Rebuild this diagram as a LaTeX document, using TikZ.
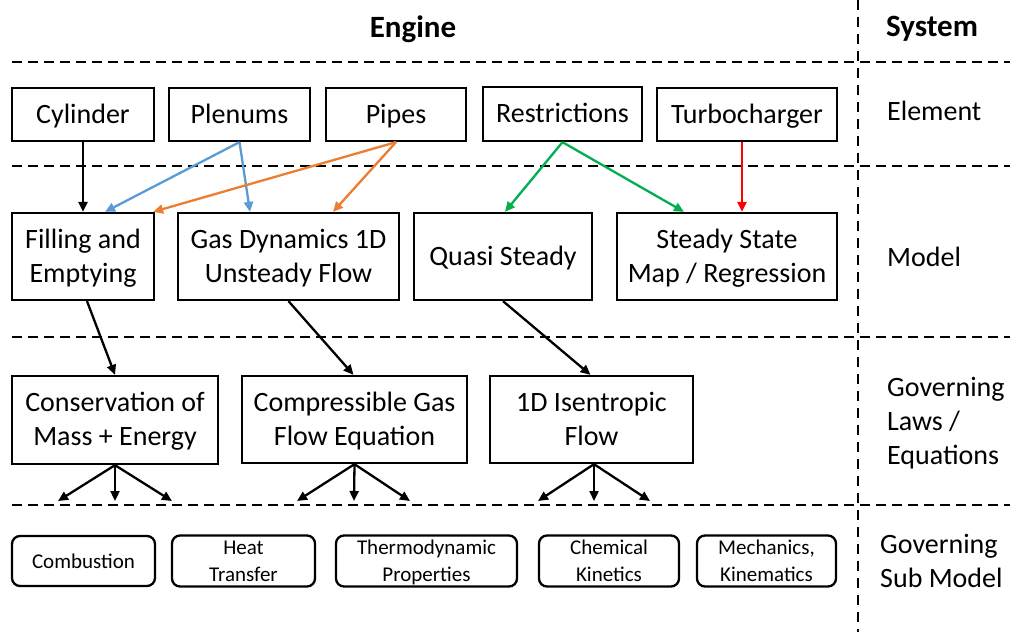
\documentclass[tikz,border=0pt]{standalone}
\usepackage{fontspec}
\setmainfont{Carlito}
\usetikzlibrary{arrows.meta}
\definecolor{cblue}{HTML}{5B9BD5}
\definecolor{corange}{HTML}{ED7D31}
\definecolor{cgreen}{HTML}{00B050}
\definecolor{cred}{HTML}{FF0000}
\begin{document}
\begin{tikzpicture}[x=1pt,y=-1pt,
  frame/.style={draw, line width=2.3pt, align=center, inner sep=0pt},
  box/.style={frame, font=\fontsize{28}{34}\selectfont,
    text height=24pt, text depth=7pt},
  twobox/.style={frame, font=\fontsize{28}{34}\selectfont,
    text height=58pt, text depth=7pt},
  subbox/.style={frame, rounded corners=8pt, minimum height=50pt,
    font=\fontsize{21}{27}\selectfont, text height=19pt, text depth=5pt},
  twosub/.style={frame, rounded corners=8pt, minimum height=50pt,
    font=\fontsize{21}{27}\selectfont, text height=46pt, text depth=5pt},
  lbl/.style={anchor=west, align=left, inner sep=0pt,
    font=\fontsize{28}{34}\selectfont},
  head/.style={inner sep=0pt, font=\fontsize{31}{36}\selectfont\bfseries},
  arr/.style={line width=2.3pt, -{Triangle[length=10pt,width=9pt]}},
  sepline/.style={line width=2.3pt, dash pattern=on 10pt off 6pt}]

% canvas
\fill[white] (0,0) rectangle (1010,632);
\useasboundingbox (0,0) rectangle (1010,632);

% section separators
\draw[sepline] (12,62) -- (1010,62);
\draw[sepline] (12,166) -- (1010,166);
\draw[sepline] (12,337) -- (1010,337);
\draw[sepline] (12,505) -- (1010,505);
\draw[line width=2.3pt, dash pattern=on 10pt off 7pt] (858,0) -- (858,632);

% column headings
\node[head] (hengine) at (413,29) {Engine};
\node[head] (hsystem) at (932,29) {System};

% system level labels
\node[lbl] (lelem) at (887,111) {Element};
\node[lbl] (lmodel) at (887,257) {Model};
\node[lbl] (llaws) at (887,423) {Governing\\Laws /\\Equations};
\node[lbl] (lsub) at (880,561) {Governing\\Sub Model};

% elements
\node[box, minimum width=142pt, minimum height=53pt] (cyl) at (83,114.5) {Cylinder};
\node[box, minimum width=141pt, minimum height=53pt] (plen) at (239.5,114.5) {Plenums};
\node[box, minimum width=140pt, minimum height=53pt] (pipe) at (396,114.5) {Pipes};
\node[box, minimum width=159pt, minimum height=54pt] (restr) at (562.5,114) {Restrictions};
\node[box, minimum width=180pt, minimum height=53pt] (turbo) at (747,114.5) {Turbocharger};

% models
\node[twobox, minimum width=142pt, minimum height=87pt] (fill) at (83,256.5) {Filling and\\Emptying};
\node[twobox, minimum width=221pt, minimum height=87pt] (gas) at (288.5,256.5) {Gas Dynamics 1D\\Unsteady Flow};
\node[box, minimum width=178pt, minimum height=87pt] (quasi) at (503,256.5) {Quasi Steady};
\node[twobox, minimum width=220pt, minimum height=87pt] (steady) at (727,256.5) {Steady State\\Map / Regression};

% governing laws
\node[twobox, minimum width=206pt, minimum height=88pt] (cons) at (115,420) {Conservation of\\Mass + Energy};
\node[twobox, minimum width=225pt, minimum height=87pt] (comp) at (354.5,419.5) {Compressible Gas\\Flow Equation};
\node[twobox, minimum width=203pt, minimum height=87pt] (isen) at (591.5,419.5) {1D Isentropic\\Flow};

% sub models
\node[subbox, minimum width=143pt] (comb) at (83.5,561) {Combustion};
\node[twosub, minimum width=143pt] (heat) at (243.5,561) {Heat\\Transfer};
\node[twosub, minimum width=181pt] (thermo) at (426.5,561) {Thermodynamic\\Properties};
\node[twosub, minimum width=140pt] (chem) at (609,561) {Chemical\\Kinetics};
\node[twosub, minimum width=139pt] (mech) at (766.5,561) {Mechanics,\\Kinematics};

% element -> model
\draw[arr] (cyl.south) -- (fill.north);
\draw[arr, cblue] (plen.south) -- ([xshift=22pt]fill.north);
\draw[arr, cblue] (plen.south) -- ([xshift=-38.5pt]gas.north);
\draw[arr, corange] (pipe.south) -- ([xshift=-2pt]fill.north east);
\draw[arr, corange] (pipe.south) -- ([xshift=44.5pt]gas.north);
\draw[arr, cgreen] (restr.south) -- ([xshift=2pt]quasi.north);
\draw[arr, cgreen] (restr.south) -- ([xshift=-43pt]steady.north);
\draw[arr, cred] ([xshift=-5pt]turbo.south) -- ([xshift=15pt]steady.north);

% model -> governing laws
\draw[arr] ([xshift=4pt]fill.south) -- (cons.north);
\draw[arr] (gas.south) -- ([xshift=-1pt]comp.north);
\draw[arr] (quasi.south) -- ([xshift=-1pt]isen.north);

% governing laws -> sub models
\coordinate (ca) at (58,501);  \coordinate (cb) at (115,501);  \coordinate (cc) at (172,501);
\coordinate (pa) at (297,501); \coordinate (pb) at (354,501);  \coordinate (pc) at (410,501);
\coordinate (ia) at (538,501); \coordinate (ib) at (594,501);  \coordinate (ic) at (650,501);
\foreach \t in {ca,cb,cc} \draw[arr] (cons.south) -- (\t);
\foreach \t in {pa,pb,pc} \draw[arr] (comp.south) -- (\t);
\foreach \t in {ia,ib,ic} \draw[arr] ([xshift=2.5pt]isen.south) -- (\t);
\end{tikzpicture}
\end{document}
